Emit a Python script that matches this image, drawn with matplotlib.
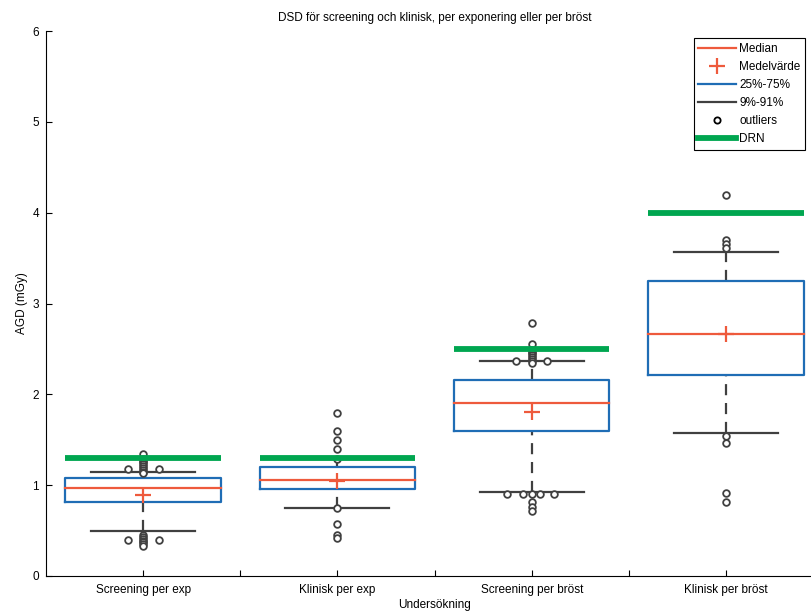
import matplotlib
matplotlib.use("Agg")
import matplotlib.pyplot as plt
from matplotlib.lines import Line2D

plt.rcParams['font.family'] = ['Liberation Sans', 'DejaVu Sans']

# Dose statistics per examination type (AGD, mGy)
categories = ["Screening per exp", "Klinisk per exp", "Screening per bröst", "Klinisk per bröst"]
q25 = [0.81, 0.96, 1.60, 2.21]
q75 = [1.08, 1.20, 2.16, 3.25]
medians = [0.965, 1.06, 1.91, 2.665]
means = [0.89, 1.05, 1.81, 2.66]
p09 = [0.50, 0.745, 0.93, 1.575]
p91 = [1.15, 1.29, 2.37, 3.567]
drn = [1.30, 1.30, 2.50, 4.00]

# Outlier values per category, with a small horizontal spread for tied values
outlier_values = [
    [1.34, 1.29, 1.27, 1.25, 1.23, 1.21, 1.19, 1.17, 1.15, 1.13, 1.18, 1.18,
     0.45, 0.43, 0.41, 0.39, 0.37, 0.35, 0.33, 0.40, 0.40],
    [1.79, 1.60, 1.50, 1.40, 1.29, 0.745, 0.57, 0.45, 0.42],
    [2.79, 2.55, 2.49, 2.47, 2.45, 2.43, 2.41, 2.39, 2.37, 2.35, 2.37, 2.37,
     0.90, 0.90, 0.90, 0.90, 0.90, 0.81, 0.76, 0.72],
    [4.195, 3.70, 3.66, 3.61, 1.54, 1.46, 0.917, 0.815],
]
outlier_spread = [
    [0, 0, 0, 0, 0, 0, 0, 0, 0, 0, -0.08, 0.08,
     0, 0, 0, 0, 0, 0, 0, -0.08, 0.08],
    [0, 0, 0, 0, 0, 0, 0, 0, 0],
    [0, 0, 0, 0, 0, 0, 0, 0, 0, 0, -0.08, 0.08,
     -0.125, -0.045, 0, 0.045, 0.115, 0, 0, 0],
    [0, 0, 0, 0, 0, 0, 0, 0],
]

red = "#ee5a3c"
blue = "#1f6db5"
gray = "#404040"
green = "#00a650"

fig = plt.figure(figsize=(8.12, 6.11), dpi=100)
ax = fig.add_axes([46 / 812, 35 / 611, 4 * 194.3 / 812, 545 / 611])

box_w = 0.8
cap_w = 0.535
for i in range(len(categories)):
    x = i + 1
    # whiskers
    ax.plot([x, x], [q75[i], p91[i]], color=gray, lw=1.6, ls=(0, (5, 3.5)), zorder=2)
    ax.plot([x, x], [p09[i], q25[i]], color=gray, lw=1.6, ls=(0, (5, 3.5)), zorder=2)
    ax.plot([x - cap_w / 2, x + cap_w / 2], [p91[i], p91[i]], color=gray, lw=1.6, zorder=2)
    ax.plot([x - cap_w / 2, x + cap_w / 2], [p09[i], p09[i]], color=gray, lw=1.6, zorder=2)
    # box
    ax.plot([x - box_w / 2, x + box_w / 2, x + box_w / 2, x - box_w / 2, x - box_w / 2],
            [q25[i], q25[i], q75[i], q75[i], q25[i]], color=blue, lw=1.6, zorder=3)
    ax.plot([x - box_w / 2, x + box_w / 2], [medians[i], medians[i]], color=red, lw=1.6, zorder=4)
    ax.plot([x], [means[i]], marker='+', color=red, ms=11, mew=1.6, zorder=5)
    # outliers
    xs = [x + d for d in outlier_spread[i]]
    ax.plot(xs, outlier_values[i], ls='none', marker='o', ms=4.8, mfc='white',
            mec=gray, mew=1.3, zorder=6)
    # reference level
    ax.plot([x - box_w / 2, x + box_w / 2], [drn[i], drn[i]], color=green, lw=4.2,
            solid_capstyle='butt', zorder=7)

ax.set_xlim(0.5, 4.5)
ax.set_ylim(0, 6)
ax.set_xticks([1, 2, 3, 4])
ax.set_xticklabels(categories)
ax.set_xticks([1.5, 2.5, 3.5], minor=True)
ax.set_yticks(range(7))
ax.tick_params(axis='both', which='both', direction='in', length=4.5, width=0.8,
               labelsize=8.5, colors='black')
ax.tick_params(axis='x', pad=6)
ax.tick_params(axis='y', pad=5)
for s in ['top', 'right']:
    ax.spines[s].set_visible(False)
for s in ['left', 'bottom']:
    ax.spines[s].set_linewidth(0.8)

ax.set_title("DSD för screening och klinisk, per exponering eller per bröst",
             fontsize=8.5, pad=7)
ax.set_xlabel("Undersökning", fontsize=8.5, labelpad=2)
ax.set_ylabel("AGD (mGy)", fontsize=8.5, labelpad=3)

handles = [
    Line2D([], [], color=red, lw=1.6),
    Line2D([], [], color=red, ls='none', marker='+', ms=11, mew=1.6),
    Line2D([], [], color=blue, lw=1.6),
    Line2D([], [], color=gray, lw=1.6),
    Line2D([], [], color='black', ls='none', marker='o', ms=4.5, mfc='white', mew=1.3),
    Line2D([], [], color=green, lw=4.2),
]
labels = ["Median", "Medelvärde", "25%-75%", "9%-91%", "outliers", "DRN"]
leg = ax.legend(handles, labels, loc='upper right', bbox_to_anchor=(805 / 812, 1 - 38 / 611),
                bbox_transform=fig.transFigure, borderaxespad=0, fontsize=8.5,
                handlelength=3.2, handletextpad=0.25, labelspacing=0.52, borderpad=0.4,
                fancybox=False, framealpha=1, edgecolor='black')
leg.get_frame().set_linewidth(0.8)

fig.savefig("out.png", dpi=100)
